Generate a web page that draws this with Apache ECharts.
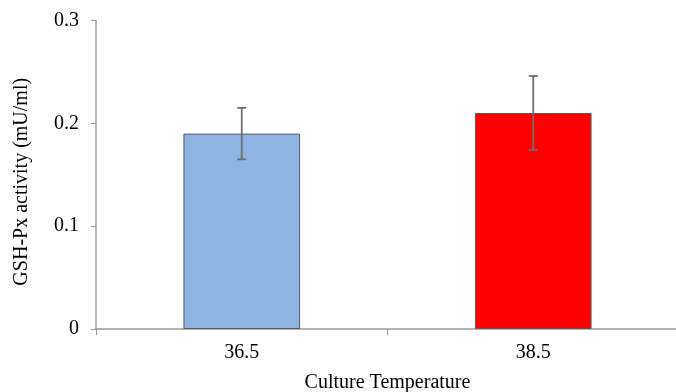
<!DOCTYPE html>
<html>
<head>
<meta charset="utf-8">
<script src="https://cdn.jsdelivr.net/npm/echarts@6/dist/echarts.min.js"></script>
<style>html,body{margin:0;padding:0;background:#fff}#c{width:676px;height:392px}</style>
</head>
<body>
<div id="c"></div>
<script>
var categories = ['36.5', '38.5'];
var values = [0.19, 0.21];
var errors = [0.025, 0.036];
var barColors = ['#8EB4E3', '#FF0000'];
var yTicks = { min: 0, max: 0.3, interval: 0.1 };

var chart = echarts.init(document.getElementById('c'));
var font = 'Liberation Serif, Times New Roman, serif';
chart.setOption({
  animation: false,
  grid: { left: 96, right: -3, top: 20.5, bottom: 63, containLabel: false, outerBoundsMode: 'none' },
  xAxis: {
    type: 'category',
    data: categories,
    name: 'Culture Temperature',
    nameLocation: 'middle',
    nameGap: 44,
    nameTextStyle: { fontFamily: font, fontSize: 20, color: '#000' },
    axisLine: { lineStyle: { color: '#9a9a9a', width: 1.5 } },
    axisTick: { show: true, length: 6, lineStyle: { color: '#9a9a9a' } },
    axisLabel: { fontFamily: font, fontSize: 20, color: '#000', margin: 14 }
  },
  yAxis: {
    type: 'value',
    min: yTicks.min, max: yTicks.max, interval: yTicks.interval,
    name: 'GSH-Px activity (mU/ml)',
    nameLocation: 'middle',
    nameGap: 64,
    nameTextStyle: { fontFamily: font, fontSize: 20, color: '#000', padding: [0, 14, 0, 0] },
    axisLine: { show: true, lineStyle: { color: '#9a9a9a', width: 1.5 } },
    axisTick: { show: true, length: 5, lineStyle: { color: '#9a9a9a' } },
    splitLine: { show: false },
    axisLabel: { fontFamily: font, fontSize: 20, color: '#000', margin: 17 }
  },
  series: [
    {
      type: 'bar',
      barWidth: '40%',
      data: values.map(function (v, i) {
        return { value: v, itemStyle: { color: barColors[i], borderColor: '#5a5a5a', borderWidth: 1 } };
      })
    },
    {
      type: 'custom',
      data: values.map(function (v, i) { return [i, v - errors[i], v + errors[i]]; }),
      renderItem: function (params, api) {
        var lo = api.coord([api.value(0), api.value(1)]);
        var hi = api.coord([api.value(0), api.value(2)]);
        var hw = 4.5;
        var style = { stroke: '#6e6e6e', lineWidth: 1.8 };
        return {
          type: 'group',
          children: [
            { type: 'line', shape: { x1: hi[0], y1: hi[1], x2: lo[0], y2: lo[1] }, style: style },
            { type: 'line', shape: { x1: hi[0] - hw, y1: hi[1], x2: hi[0] + hw, y2: hi[1] }, style: style },
            { type: 'line', shape: { x1: lo[0] - hw, y1: lo[1], x2: lo[0] + hw, y2: lo[1] }, style: style }
          ]
        };
      },
      z: 10
    }
  ]
});
</script>
</body>
</html>
